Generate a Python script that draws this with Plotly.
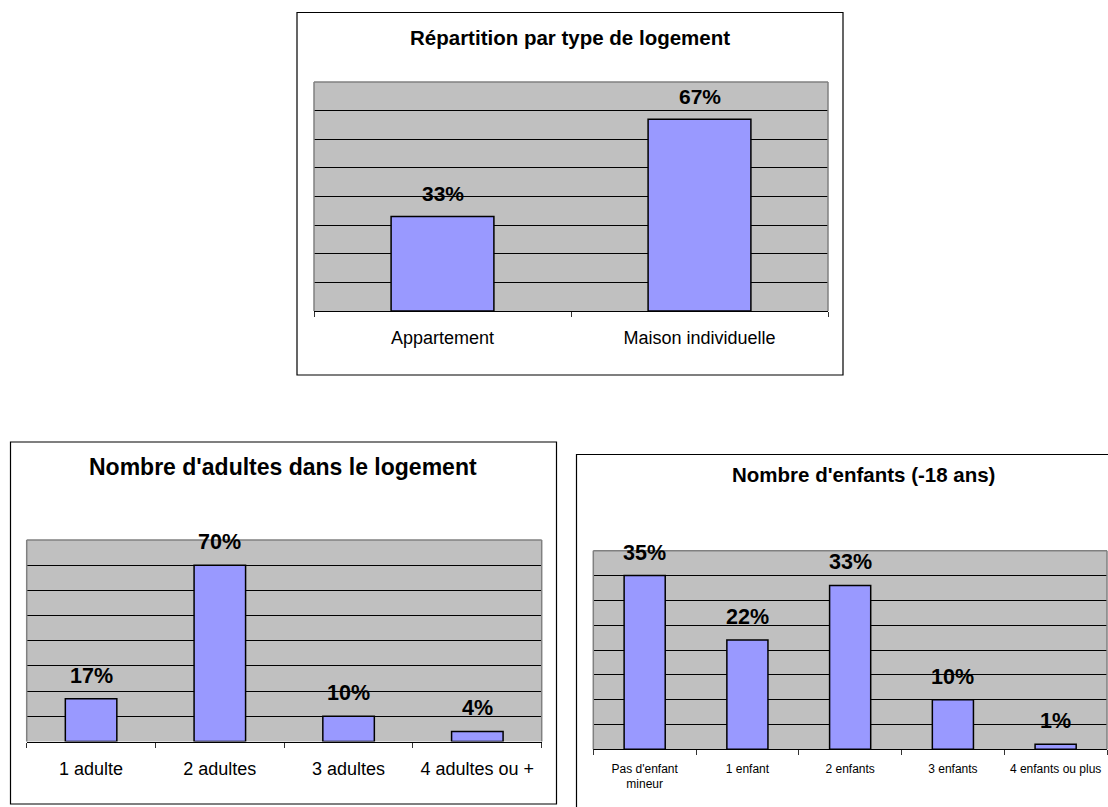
import plotly.graph_objects as go

# ---- data ----
logement_cats = ["Appartement", "Maison individuelle"]
logement_vals = [0.33, 0.67]

adultes_cats = ["1 adulte", "2 adultes", "3 adultes", "4 adultes ou +"]
adultes_vals = [0.17, 0.70, 0.10, 0.04]

enfants_cats = ["Pas d'enfant<br>mineur", "1 enfant", "2 enfants", "3 enfants", "4 enfants ou plus"]
enfants_vals = [0.35, 0.22, 0.33, 0.10, 0.01]

titles = ["Répartition par type de logement",
          "Nombre d'adultes dans le logement",
          "Nombre d'enfants (-18 ans)"]

W, H = 1108, 807
FONT = "Arial, Liberation Sans, sans-serif"
BAR = "#9999FF"
BG = "#C0C0C0"

def px_x(p):
    return p / W

def px_y(p):
    return 1 - p / H

# layout geometry in pixels: plot area (x0, x1, ytop, ybottom), box (x0, x1, ytop, ybottom)
panels = [
    dict(cats=logement_cats, vals=logement_vals, plot=(314, 828, 82, 311), box=(297, 843, 12.5, 375),
         title=titles[0], tpos=(570, 37.5), tsize=20.5, rng=0.8, dtick=0.1, tickfs=18, stand=10, lfs=21),
    dict(cats=adultes_cats, vals=adultes_vals, plot=(26.7, 541.7, 540, 741.5), box=(10.5, 556.5, 442, 804),
         title=titles[1], tpos=(283, 467), tsize=23, rng=0.8, dtick=0.1, tickfs=18, stand=11, lfs=21.5),
    dict(cats=enfants_cats, vals=enfants_vals, plot=(593.3, 1107, 550.7, 749.3), box=(576.5, 1125, 454.5, 830),
         title=titles[2], tpos=(863, 474), tsize=20.5, rng=0.4, dtick=0.05, tickfs=12, stand=8, lfs=21.5),
]

fig = go.Figure()
shapes = []
annotations = []

for i, p in enumerate(panels, start=1):
    sfx = "" if i == 1 else str(i)
    xa, ya = "x" + sfx, "y" + sfx
    fig.add_trace(go.Bar(
        x=p["cats"], y=p["vals"], xaxis=xa, yaxis=ya,
        marker=dict(color=BAR, line=dict(color="#000000", width=1.5)),
        hoverinfo="skip",
    ))
    x0, x1, yt, yb = p["plot"]
    fig.layout["xaxis" + sfx] = dict(
        domain=[px_x(x0), px_x(x1)], anchor=ya, type="category",
        tickson="boundaries", ticks="outside", ticklen=5, tickcolor="#333333", tickwidth=1,
        showline=True, linecolor="#000000", linewidth=1, showgrid=False, zeroline=False,
        tickfont=dict(family=FONT, size=p["tickfs"], color="#000000"),
        ticklabelstandoff=p["stand"], fixedrange=True,
    )
    fig.layout["yaxis" + sfx] = dict(
        domain=[px_y(yb), px_y(yt)], anchor=xa, range=[0, p["rng"]], tick0=0, dtick=p["dtick"],
        showticklabels=False, ticks="", showgrid=True, gridcolor="#000000", gridwidth=1,
        zeroline=False, showline=False, fixedrange=True,
    )
    # plot-area border (top, left, right) in grey
    for (ax0, ax1, ay0, ay1) in [(0, 1, 1, 1), (0, 0, 0, 1), (1, 1, 0, 1)]:
        shapes.append(dict(type="line", xref=xa + " domain", yref=ya + " domain",
                           x0=ax0, x1=ax1, y0=ay0, y1=ay1,
                           line=dict(color="#808080", width=1.5), layer="above"))
    # chart frame
    bx0, bx1, byt, byb = p["box"]
    shapes.append(dict(type="rect", xref="paper", yref="paper",
                       x0=px_x(bx0), x1=px_x(bx1), y0=px_y(byb), y1=px_y(byt),
                       line=dict(color="#000000", width=1.2), layer="below"))
    # title
    tx, ty = p["tpos"]
    annotations.append(dict(text="<b>%s</b>" % p["title"], xref="paper", yref="paper",
                            x=px_x(tx), y=px_y(ty), xanchor="center", yanchor="middle",
                            showarrow=False, font=dict(family=FONT, size=p["tsize"], color="#000000")))
    # value labels
    for c, v in zip(p["cats"], p["vals"]):
        annotations.append(dict(text="<b>%d%%</b>" % round(v * 100), xref=xa, yref=ya,
                                x=c, y=v, xanchor="center", yanchor="middle", yshift=23,
                                showarrow=False, font=dict(family=FONT, size=p["lfs"], color="#000000")))

fig.update_layout(
    width=W, height=H, margin=dict(l=0, r=0, t=0, b=0, pad=0),
    paper_bgcolor="#FFFFFF", plot_bgcolor=BG, showlegend=False, bargap=0.6,
    shapes=shapes, annotations=annotations,
)

fig.write_html("out.html", config={"displayModeBar": False},
               post_script="document.body.style.margin='0';document.body.style.overflow='hidden';")
